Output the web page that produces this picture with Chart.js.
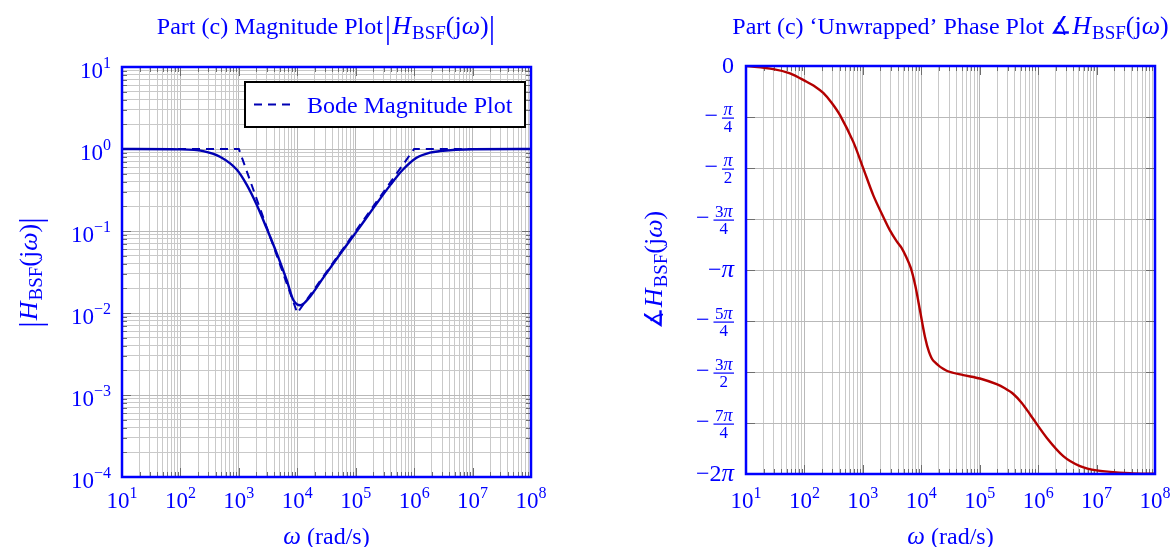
<!DOCTYPE html>
<html>
<head>
<meta charset="utf-8">
<script src="https://cdn.jsdelivr.net/npm/chart.js@4.4.1/dist/chart.umd.min.js"></script>
<style>
  html, body { margin: 0; padding: 0; background: #fff; }
  body { width: 1173px; height: 547px; position: relative; overflow: hidden; }
  canvas { position: absolute; top: 0; }
  #magChart { left: 0; }
  #phaseChart { left: 586px; }
</style>
</head>
<body>
<canvas id="magChart" width="586" height="547"></canvas>
<canvas id="phaseChart" width="587" height="547"></canvas>
<script>
// magnitude plot (rad/s, |H|)
const magFreq = [10, 100, 245, 475, 918, 1360, 2020, 2990, 4440, 6590, 8510, 10000, 11200, 12600,
  16500, 27900, 53700, 104000, 200000, 387000, 646000, 1100000, 1860000, 2750000, 10000000, 100000000];
const magValue = [1, 0.99, 0.942, 0.805, 0.562, 0.368, 0.209, 0.108, 0.0537, 0.0251, 0.0145, 0.0127, 0.01245, 0.0129,
  0.0158, 0.027, 0.052, 0.099, 0.19, 0.36, 0.562, 0.782, 0.902, 0.942, 0.993, 1];

// straight line bode asymptotes
const bodeFreq = [10, 1000, 10000, 1000000, 100000000];
const bodeMag = [1, 1, 0.01, 1, 1];

// unwrapped phase, in multiples of pi
const phaseFreq = [10, 29.3, 56.6, 109, 151, 210, 292, 406, 686, 1020, 1510, 2240, 2910, 3800, 4570, 5500, 6610, 7940,
  9510, 11600, 13500, 16100, 27200, 52400, 101000, 195000, 269000, 376000, 525000, 724000, 1400000, 2690000,
  5200000, 10000000, 37200000, 100000000];
const phaseInPi = [0, -0.015, -0.036, -0.077, -0.1, -0.132, -0.18, -0.241, -0.372, -0.503, -0.634, -0.74, -0.806, -0.86,
  -0.89, -0.935, -0.99, -1.08, -1.199, -1.33, -1.4, -1.445, -1.494, -1.515, -1.532, -1.56, -1.58, -1.608, -1.652,
  -1.707, -1.822, -1.912, -1.961, -1.982, -1.996, -1.999];

// axis ticks
const freqExps = [1, 2, 3, 4, 5, 6, 7, 8];
const magExps = [-4, -3, -2, -1, 0, 1];
const phaseTicksInPi = [0, -0.25, -0.5, -0.75, -1, -1.25, -1.5, -1.75, -2];
const phaseTickLabels = ['0', '−π/4', '−π/2', '−3π/4', '−π', '−5π/4', '−3π/2', '−7π/4', '−2π'];

const SERIF = '"Liberation Serif", "Times New Roman", serif';
const BLUE = '#0000ff';
const MAJOR = '#b9b9b9';
const MINOR = '#c9c9c9';

function fnt(size, style) { return (style || '') + ' ' + size + 'px ' + SERIF; }

function richWidth(ctx, parts) {
  let w = 0;
  parts.forEach(p => { ctx.font = p.font; w += ctx.measureText(p.t).width + (p.gap || 0); });
  return w;
}
function drawRich(ctx, parts, x, y, align) {
  const w = richWidth(ctx, parts);
  let cx = align === 'center' ? x - w / 2 : align === 'right' ? x - w : x;
  ctx.textAlign = 'left';
  ctx.textBaseline = 'alphabetic';
  parts.forEach(p => {
    ctx.font = p.font;
    ctx.fillText(p.t, cx, y + (p.dy || 0));
    cx += ctx.measureText(p.t).width + (p.gap || 0);
  });
}

const hbsf = [
  {t: 'H', font: fnt(26, 'italic'), gap: 1},
  {t: 'BSF', font: fnt(19), dy: 5},
  {t: '(j', font: fnt(26)},
  {t: 'ω', font: fnt(26, 'italic')},
  {t: ')', font: fnt(26)}
];
const bar = {t: '|', font: fnt(32), dy: 4, gap: 1};

function logTicks(exps) {
  const t = [];
  for (let i = 0; i < exps.length - 1; i++) {
    for (let k = 1; k < 10; k++) t.push({value: k * Math.pow(10, exps[i]), major: k === 1});
  }
  t.push({value: Math.pow(10, exps[exps.length - 1]), major: true});
  return t;
}

function powerLabel(e) {
  return [{t: '10', font: fnt(23)}, {t: e < 0 ? '−' + (-e) : String(e), font: fnt(16), dy: -10}];
}

function freqScale(h) {
  return {
    type: 'logarithmic', min: 10, max: 1e8,
    afterBuildTicks: s => { s.ticks = logTicks(freqExps); },
    afterFit: s => { s.height = h; },
    ticks: {display: false, autoSkip: false},
    grid: {drawTicks: false, color: c => (c.tick && c.tick.major ? MAJOR : MINOR), lineWidth: 1},
    border: {display: false}
  };
}

function line(ctx, x0, y0, x1, y1) {
  ctx.beginPath(); ctx.moveTo(x0, y0); ctx.lineTo(x1, y1); ctx.stroke();
}

function tickMarks(chart) {
  const ctx = chart.ctx;
  const {left, right, top, bottom} = chart.chartArea;
  ctx.save();
  ctx.strokeStyle = '#6e6e6e';
  ctx.lineWidth = 1;
  chart.scales.x.ticks.forEach(t => {
    const px = Math.round(chart.scales.x.getPixelForValue(t.value)) + 0.5;
    const len = t.major ? 9 : 5;
    line(ctx, px, bottom, px, bottom - len);
    line(ctx, px, top, px, top + len);
  });
  chart.scales.y.ticks.forEach(t => {
    const py = Math.round(chart.scales.y.getPixelForValue(t.value)) + 0.5;
    const len = t.major === false ? 5 : 9;
    line(ctx, left, py, left + len, py);
    line(ctx, right, py, right - len, py);
  });
  ctx.restore();
}

function frameAndX(chart) {
  const ctx = chart.ctx;
  const {left, right, top, bottom} = chart.chartArea;
  ctx.save();
  ctx.strokeStyle = BLUE;
  ctx.lineWidth = 2.5;
  ctx.strokeRect(left, top, right - left, bottom - top);
  ctx.fillStyle = BLUE;
  freqExps.forEach(e => {
    const px = chart.scales.x.getPixelForValue(Math.pow(10, e));
    drawRich(ctx, powerLabel(e), px, 508, 'center');
  });
  drawRich(ctx, [{t: 'ω', font: fnt(25, 'italic')}, {t: ' (rad/s)', font: fnt(24)}], (left + right) / 2, 544, 'center');
  ctx.restore();
}

function drawRotated(ctx, parts, x, y) {
  ctx.save();
  ctx.translate(x, y);
  ctx.rotate(-Math.PI / 2);
  drawRich(ctx, parts, 0, 0, 'center');
  ctx.restore();
}

const magPlugin = {
  id: 'magDecor',
  beforeDatasetsDraw: tickMarks,
  afterDraw(chart) {
    const ctx = chart.ctx;
    const {left, right, top} = chart.chartArea;
    frameAndX(chart);
    ctx.save();
    ctx.fillStyle = BLUE;
    magExps.forEach(e => {
      const py = chart.scales.y.getPixelForValue(Math.pow(10, e));
      drawRich(ctx, powerLabel(e), left - 11, py + 11, 'right');
    });
    drawRich(ctx, [{t: 'Part (c) Magnitude Plot', font: fnt(24), gap: 2}, bar].concat(hbsf, [bar]), (left + right) / 2, 34, 'center');
    drawRotated(ctx, [bar].concat(hbsf, [bar]), 37, (chart.chartArea.top + chart.chartArea.bottom) / 2);
    // legend box
    const bx0 = right - 286, bx1 = right - 6, by0 = top + 15, by1 = top + 60, my = (by0 + by1) / 2;
    ctx.fillStyle = '#ffffff';
    ctx.fillRect(bx0, by0, bx1 - bx0, by1 - by0);
    ctx.strokeStyle = '#000000';
    ctx.lineWidth = 2;
    ctx.strokeRect(bx0, by0, bx1 - bx0, by1 - by0);
    ctx.strokeStyle = '#0000b3';
    ctx.setLineDash([8, 6]);
    line(ctx, bx0 + 9, my, bx0 + 51, my);
    ctx.setLineDash([]);
    ctx.fillStyle = BLUE;
    drawRich(ctx, [{t: 'Bode Magnitude Plot', font: fnt(24)}], bx0 + 62, my + 8, 'left');
    ctx.restore();
  }
};

function phaseLabelParts(ctx, label, xr, py) {
  if (label.indexOf('/') < 0) {
    const parts = label.split('').map(ch => ({t: ch, font: ch === 'π' ? fnt(25, 'italic') : fnt(24)}));
    drawRich(ctx, parts, xr, py + 7, 'right');
    return;
  }
  const body = label.replace('−', '');
  const num = body.split('/')[0], den = body.split('/')[1];
  const numParts = num.split('').map(ch => ({t: ch, font: ch === 'π' ? fnt(18, 'italic') : fnt(17)}));
  const denParts = [{t: den, font: fnt(17)}];
  const fw = Math.max(richWidth(ctx, numParts), richWidth(ctx, denParts)) + 3;
  const fx = xr - fw;
  const barY = py + 1;
  ctx.fillRect(fx, barY - 0.5, fw, 1.2);
  drawRich(ctx, numParts, fx + fw / 2, barY - 3, 'center');
  drawRich(ctx, denParts, fx + fw / 2, barY + 14, 'center');
  drawRich(ctx, [{t: '−', font: fnt(24)}], fx - 4, py + 6, 'right');
}

const phasePlugin = {
  id: 'phaseDecor',
  beforeDatasetsDraw: tickMarks,
  afterDraw(chart) {
    const ctx = chart.ctx;
    const {left, right, top, bottom} = chart.chartArea;
    frameAndX(chart);
    ctx.save();
    ctx.fillStyle = BLUE;
    phaseTicksInPi.forEach((v, i) => {
      const py = chart.scales.y.getPixelForValue(v * Math.PI);
      phaseLabelParts(ctx, phaseTickLabels[i], left - 12, py);
    });
    drawRich(ctx, [{t: 'Part (c) ‘Unwrapped’ Phase Plot ', font: fnt(24)}, {t: '∡', font: fnt(24)}].concat(hbsf),
      (left + right) / 2, 34, 'center');
    drawRotated(ctx, [{t: '∡', font: fnt(24)}].concat(hbsf), 662 - 586, (top + bottom) / 2);
    ctx.restore();
  }
};

new Chart(document.getElementById('magChart'), {
  type: 'line',
  data: {
    datasets: [
      {
        label: 'Bode Magnitude Plot',
        data: bodeFreq.map((w, i) => ({x: w, y: bodeMag[i]})),
        borderColor: '#0000b3',
        borderWidth: 2,
        borderDash: [8, 6],
        pointRadius: 0,
        tension: 0
      },
      {
        label: 'Magnitude',
        data: magFreq.map((w, i) => ({x: w, y: magValue[i]})),
        borderColor: '#0000b3',
        borderWidth: 2.4,
        pointRadius: 0,
        cubicInterpolationMode: 'monotone'
      }
    ]
  },
  options: {
    responsive: false,
    animation: false,
    layout: {padding: {top: 67, right: 55, left: 0, bottom: 0}},
    plugins: {legend: {display: false}, tooltip: {enabled: false}},
    scales: {
      x: freqScale(70),
      y: {
        type: 'logarithmic', min: 1e-4, max: 10,
        afterBuildTicks: s => { s.ticks = logTicks(magExps); },
        afterFit: s => { s.width = 122; },
        ticks: {display: false, autoSkip: false},
        grid: {drawTicks: false, color: c => (c.tick && c.tick.major ? MAJOR : MINOR), lineWidth: 1},
        border: {display: false}
      }
    }
  },
  plugins: [magPlugin]
});

new Chart(document.getElementById('phaseChart'), {
  type: 'line',
  data: {
    datasets: [
      {
        label: 'Phase',
        data: phaseFreq.map((w, i) => ({x: w, y: phaseInPi[i] * Math.PI})),
        borderColor: '#b30000',
        borderWidth: 2.4,
        pointRadius: 0,
        tension: 0.3
      }
    ]
  },
  options: {
    responsive: false,
    animation: false,
    layout: {padding: {top: 66, right: 18, left: 0, bottom: 0}},
    plugins: {legend: {display: false}, tooltip: {enabled: false}},
    scales: {
      x: freqScale(73),
      y: {
        type: 'linear', min: -2 * Math.PI, max: 0,
        afterBuildTicks: s => { s.ticks = phaseTicksInPi.map(v => ({value: v * Math.PI})); },
        afterFit: s => { s.width = 160; },
        ticks: {display: false, autoSkip: false},
        grid: {drawTicks: false, color: MAJOR, lineWidth: 1},
        border: {display: false}
      }
    }
  },
  plugins: [phasePlugin]
});
</script>
</body>
</html>
